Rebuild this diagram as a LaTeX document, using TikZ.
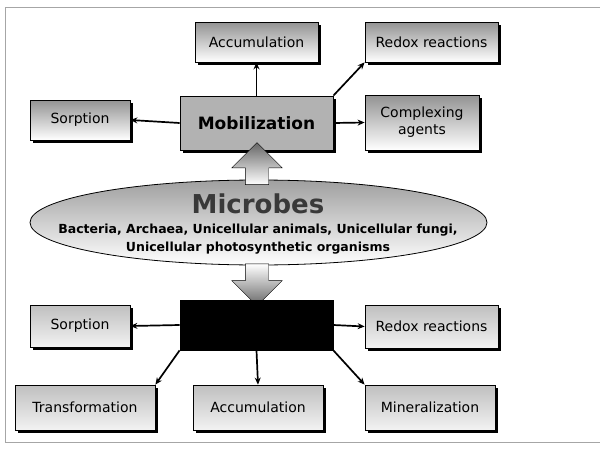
\documentclass[tikz,border=0pt]{standalone}
\usepackage{fontspec}
\setmainfont{DejaVu Sans}
\usetikzlibrary{shapes.geometric,shapes.arrows,shadows,arrows.meta}

\tikzset{
  darkbox/.style={draw=black, thick, top color=gray!85, bottom color=white,
    drop shadow={shadow xshift=2.5pt, shadow yshift=-2.5pt, fill=black, opacity=1},
    font=\fontsize{14}{17}\selectfont, inner sep=2pt, align=center},
  lightbox/.style={draw=black, thick, top color=gray!50, bottom color=gray!10,
    drop shadow={shadow xshift=2.5pt, shadow yshift=-2.5pt, fill=black, opacity=1},
    font=\fontsize{14}{17}\selectfont, inner sep=2pt, align=center},
  link/.style={line width=1.7pt, -{Stealth[length=7pt,width=6pt]}},
  bigarrow/.style={single arrow, draw=black, thin, minimum height=42pt,
    inner sep=11.5pt, single arrow head extend=13.5pt}
}

\begin{document}
\begin{tikzpicture}[x=1pt,y=-1pt]
\useasboundingbox (0,0) rectangle (614,450);
% frame
\draw [gray!70, thin] (600,7) -- (5,7) -- (5,442) -- (600,442);

% upper part
\node[darkbox, minimum width=123pt, minimum height=40pt] (accu1) at (256.5,42) {Accumulation};
\node[darkbox, minimum width=133pt, minimum height=40pt] (redox1) at (431.5,42) {Redox reactions};
\node[darkbox, minimum width=100pt, minimum height=40pt] (sorp1) at (80,120) {Sorption};
\node[draw=black, thick, fill=gray!60, minimum width=153pt, minimum height=54pt,
  drop shadow={shadow xshift=2.5pt, shadow yshift=-2.5pt, fill=black, opacity=1},
  font=\bfseries\fontsize{17}{20}\selectfont] (mob) at (256.5,123) {Mobilization};
\node[darkbox, minimum width=114pt, minimum height=55pt] (compl) at (422,122.5) {Complexing\\agents};

\draw [link] (mob.north) -- (accu1.south);
\draw [link] (mob.north east) -- (redox1.south west);
\draw [link] (mob.west) -- (sorp1.east);
\draw [link] (mob.east) -- (compl.west);

% microbes
\node[ellipse, draw=black, thick, top color=gray!75, bottom color=white,
  minimum width=457pt, minimum height=85pt, inner sep=0pt] (microbes) at (258.5,222.5) {};
\node[font=\bfseries\fontsize{26}{28}\selectfont, text=gray!45!black] (mtitle) at (258,204) {Microbes};
\node[font=\bfseries\fontsize{12.5}{18}\selectfont, align=center] (mtext) at (258,239)
  {Bacteria, Archaea, Unicellular animals, Unicellular fungi,\\Unicellular photosynthetic organisms};

\node[bigarrow, shape border rotate=90, top color=gray!80!black, bottom color=white] (up) at (257,169.5) {};
\node[bigarrow, shape border rotate=270, top color=white, bottom color=gray!80!black] (down) at (257,279) {};

% lower part
\node[draw=black, thick, fill=black, minimum width=153pt, minimum height=50pt] (immob) at (256.5,325) {};
\node[lightbox, minimum width=100pt, minimum height=42pt] (sorp2) at (80,326) {Sorption};
\node[lightbox, minimum width=133pt, minimum height=43pt] (redox2) at (431.5,326.5) {Redox reactions};
\node[lightbox, minimum width=140pt, minimum height=45pt] (trans) at (85,407.5) {Transformation};
\node[lightbox, minimum width=130pt, minimum height=45pt] (accu2) at (258,407.5) {Accumulation};
\node[lightbox, minimum width=130pt, minimum height=45pt] (miner) at (430,407.5) {Mineralization};

\draw [link] (immob.west) -- (sorp2.east);
\draw [link] (immob.east) -- (redox2.west);
\draw [link] (immob.south) -- (accu2.north);
\draw [link] (immob.south west) -- (trans.north east);
\draw [link] (immob.south east) -- (miner.north west);
\end{tikzpicture}
\end{document}
